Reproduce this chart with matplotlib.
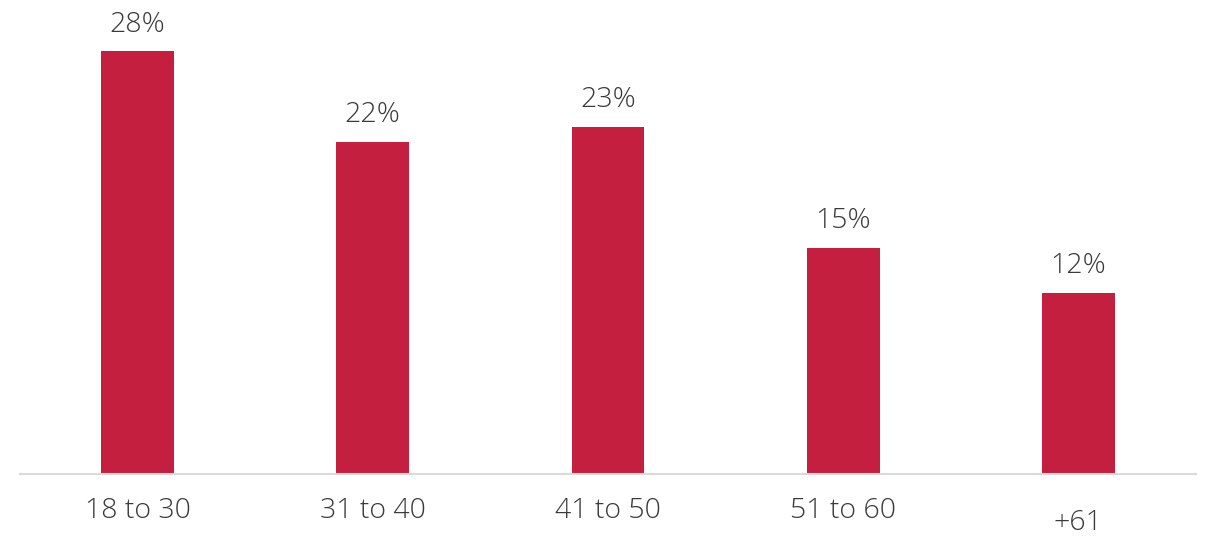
import matplotlib
matplotlib.use("Agg")
import matplotlib.pyplot as plt

categories = ["18 to 30", "31 to 40", "41 to 50", "51 to 60", "+61"]
values = [28, 22, 23, 15, 12]
value_labels = ["28%", "22%", "23%", "15%", "12%"]

BAR_COLOR = "#C41F3E"
TEXT_COLOR = "#3A3A3A"

plt.rcParams["font.family"] = ["Open Sans", "DejaVu Sans"]

fig = plt.figure(figsize=(12.08, 5.37), dpi=100)
ax = fig.add_axes([20 / 1208, 63 / 537, 1176 / 1208, 474 / 537])

x = list(range(len(categories)))
bars = ax.bar(x, values, width=0.31, color=BAR_COLOR, zorder=2)

ax.set_xlim(-0.5, len(categories) - 0.5)
ax.set_ylim(0, 31.4)

for xi, v, lab in zip(x, values, value_labels):
    ax.annotate(lab, (xi, v), xytext=(0, 9), textcoords="offset points",
                ha="center", va="bottom", fontsize=20.5, fontweight="light",
                color=TEXT_COLOR)

for xi, cat in zip(x, categories):
    dy = -35 if cat.startswith("+") else -27
    ax.annotate(cat, (xi, 0), xytext=(0, dy), textcoords="offset points",
                ha="center", va="center", fontsize=20.5, fontweight="light",
                color=TEXT_COLOR, annotation_clip=False)

ax.set_xticks([])
ax.set_yticks([])
for side in ["top", "right", "left"]:
    ax.spines[side].set_visible(False)
ax.spines["bottom"].set_color("#D9D9D9")
ax.spines["bottom"].set_linewidth(1.5)

fig.savefig("out.png", dpi=100, facecolor="white")
